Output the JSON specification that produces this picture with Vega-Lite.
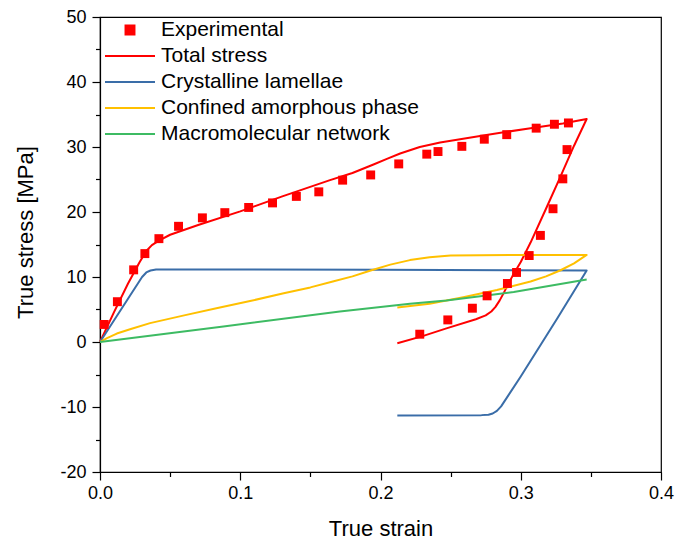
{
  "$schema": "https://vega.github.io/schema/vega-lite/v6.json",
  "width": 561,
  "height": 455,
  "autosize": {"type": "none"},
  "padding": {"left": 100, "top": 17, "right": 20, "bottom": 72},
  "background": "white",
  "config": {
    "view": {"stroke": "black", "strokeWidth": 1.2},
    "font": "Liberation Sans",
    "axis": {
      "grid": false,
      "domainColor": "black",
      "domainWidth": 1.2,
      "tickColor": "black",
      "tickWidth": 1.2,
      "labelColor": "black",
      "labelFont": "Liberation Sans",
      "labelFontSize": 18,
      "titleFont": "Liberation Sans",
      "titleFontSize": 22,
      "titleFontWeight": "normal",
      "titleColor": "black"
    }
  },
  "data": {
    "values": [
      {"series": "Experimental", "i": 0, "strain": 0.003, "stress": 2.7},
      {"series": "Experimental", "i": 1, "strain": 0.0124, "stress": 6.2},
      {"series": "Experimental", "i": 2, "strain": 0.024, "stress": 11.1},
      {"series": "Experimental", "i": 3, "strain": 0.032, "stress": 13.6},
      {"series": "Experimental", "i": 4, "strain": 0.042, "stress": 15.9},
      {"series": "Experimental", "i": 5, "strain": 0.056, "stress": 17.8},
      {"series": "Experimental", "i": 6, "strain": 0.073, "stress": 19.1},
      {"series": "Experimental", "i": 7, "strain": 0.089, "stress": 19.9},
      {"series": "Experimental", "i": 8, "strain": 0.106, "stress": 20.7},
      {"series": "Experimental", "i": 9, "strain": 0.123, "stress": 21.4},
      {"series": "Experimental", "i": 10, "strain": 0.14, "stress": 22.4},
      {"series": "Experimental", "i": 11, "strain": 0.156, "stress": 23.1},
      {"series": "Experimental", "i": 12, "strain": 0.173, "stress": 24.9},
      {"series": "Experimental", "i": 13, "strain": 0.193, "stress": 25.7},
      {"series": "Experimental", "i": 14, "strain": 0.213, "stress": 27.4},
      {"series": "Experimental", "i": 15, "strain": 0.233, "stress": 28.9},
      {"series": "Experimental", "i": 16, "strain": 0.241, "stress": 29.3},
      {"series": "Experimental", "i": 17, "strain": 0.258, "stress": 30.1},
      {"series": "Experimental", "i": 18, "strain": 0.274, "stress": 31.2},
      {"series": "Experimental", "i": 19, "strain": 0.29, "stress": 31.9},
      {"series": "Experimental", "i": 20, "strain": 0.311, "stress": 32.9},
      {"series": "Experimental", "i": 21, "strain": 0.324, "stress": 33.5},
      {"series": "Experimental", "i": 22, "strain": 0.334, "stress": 33.7},
      {"series": "Experimental", "i": 23, "strain": 0.333, "stress": 29.6},
      {"series": "Experimental", "i": 24, "strain": 0.33, "stress": 25.1},
      {"series": "Experimental", "i": 25, "strain": 0.323, "stress": 20.5},
      {"series": "Experimental", "i": 26, "strain": 0.314, "stress": 16.4},
      {"series": "Experimental", "i": 27, "strain": 0.306, "stress": 13.3},
      {"series": "Experimental", "i": 28, "strain": 0.297, "stress": 10.7},
      {"series": "Experimental", "i": 29, "strain": 0.2905, "stress": 9.0},
      {"series": "Experimental", "i": 30, "strain": 0.276, "stress": 7.1},
      {"series": "Experimental", "i": 31, "strain": 0.2655, "stress": 5.2},
      {"series": "Experimental", "i": 32, "strain": 0.248, "stress": 3.4},
      {"series": "Experimental", "i": 33, "strain": 0.228, "stress": 1.2},

      {"series": "Total stress", "i": 0, "strain": 0.0, "stress": 0.0},
      {"series": "Total stress", "i": 1, "strain": 0.01, "stress": 4.6},
      {"series": "Total stress", "i": 2, "strain": 0.02, "stress": 9.0},
      {"series": "Total stress", "i": 3, "strain": 0.028, "stress": 12.2},
      {"series": "Total stress", "i": 4, "strain": 0.033, "stress": 14.0},
      {"series": "Total stress", "i": 5, "strain": 0.037, "stress": 14.9},
      {"series": "Total stress", "i": 6, "strain": 0.042, "stress": 15.6},
      {"series": "Total stress", "i": 7, "strain": 0.05, "stress": 16.5},
      {"series": "Total stress", "i": 8, "strain": 0.07, "stress": 18.0},
      {"series": "Total stress", "i": 9, "strain": 0.1, "stress": 20.1},
      {"series": "Total stress", "i": 10, "strain": 0.13, "stress": 22.4},
      {"series": "Total stress", "i": 11, "strain": 0.164, "stress": 24.9},
      {"series": "Total stress", "i": 12, "strain": 0.18, "stress": 26.0},
      {"series": "Total stress", "i": 13, "strain": 0.195, "stress": 27.3},
      {"series": "Total stress", "i": 14, "strain": 0.205, "stress": 28.2},
      {"series": "Total stress", "i": 15, "strain": 0.214, "stress": 29.0},
      {"series": "Total stress", "i": 16, "strain": 0.228, "stress": 30.0},
      {"series": "Total stress", "i": 17, "strain": 0.2425, "stress": 30.7},
      {"series": "Total stress", "i": 18, "strain": 0.271, "stress": 31.7},
      {"series": "Total stress", "i": 19, "strain": 0.307, "stress": 32.9},
      {"series": "Total stress", "i": 20, "strain": 0.33, "stress": 33.6},
      {"series": "Total stress", "i": 21, "strain": 0.347, "stress": 34.3},
      {"series": "Total stress", "i": 22, "strain": 0.338, "stress": 30.2},
      {"series": "Total stress", "i": 23, "strain": 0.328, "stress": 25.3},
      {"series": "Total stress", "i": 24, "strain": 0.318, "stress": 20.5},
      {"series": "Total stress", "i": 25, "strain": 0.307, "stress": 15.3},
      {"series": "Total stress", "i": 26, "strain": 0.3, "stress": 12.3},
      {"series": "Total stress", "i": 27, "strain": 0.294, "stress": 10.1},
      {"series": "Total stress", "i": 28, "strain": 0.291, "stress": 8.9},
      {"series": "Total stress", "i": 29, "strain": 0.288, "stress": 7.6},
      {"series": "Total stress", "i": 30, "strain": 0.285, "stress": 6.4},
      {"series": "Total stress", "i": 31, "strain": 0.282, "stress": 5.4},
      {"series": "Total stress", "i": 32, "strain": 0.279, "stress": 4.7},
      {"series": "Total stress", "i": 33, "strain": 0.275, "stress": 4.1},
      {"series": "Total stress", "i": 34, "strain": 0.268, "stress": 3.5},
      {"series": "Total stress", "i": 35, "strain": 0.247, "stress": 2.1},
      {"series": "Total stress", "i": 36, "strain": 0.23, "stress": 0.9},
      {"series": "Total stress", "i": 37, "strain": 0.212, "stress": -0.2},

      {"series": "Crystalline lamellae", "i": 0, "strain": 0.0, "stress": 0.0},
      {"series": "Crystalline lamellae", "i": 1, "strain": 0.03, "stress": 10.0},
      {"series": "Crystalline lamellae", "i": 2, "strain": 0.033, "stress": 10.7},
      {"series": "Crystalline lamellae", "i": 3, "strain": 0.036, "stress": 11.0},
      {"series": "Crystalline lamellae", "i": 4, "strain": 0.04, "stress": 11.15},
      {"series": "Crystalline lamellae", "i": 5, "strain": 0.1, "stress": 11.15},
      {"series": "Crystalline lamellae", "i": 6, "strain": 0.2, "stress": 11.1},
      {"series": "Crystalline lamellae", "i": 7, "strain": 0.347, "stress": 11.0},
      {"series": "Crystalline lamellae", "i": 8, "strain": 0.326, "stress": 3.6},
      {"series": "Crystalline lamellae", "i": 9, "strain": 0.3, "stress": -5.3},
      {"series": "Crystalline lamellae", "i": 10, "strain": 0.286, "stress": -9.9},
      {"series": "Crystalline lamellae", "i": 11, "strain": 0.283, "stress": -10.6},
      {"series": "Crystalline lamellae", "i": 12, "strain": 0.28, "stress": -11.0},
      {"series": "Crystalline lamellae", "i": 13, "strain": 0.277, "stress": -11.2},
      {"series": "Crystalline lamellae", "i": 14, "strain": 0.272, "stress": -11.25},
      {"series": "Crystalline lamellae", "i": 15, "strain": 0.212, "stress": -11.3},

      {"series": "Confined amorphous phase", "i": 0, "strain": 0.0, "stress": 0.0},
      {"series": "Confined amorphous phase", "i": 1, "strain": 0.005, "stress": 0.6},
      {"series": "Confined amorphous phase", "i": 2, "strain": 0.012, "stress": 1.3},
      {"series": "Confined amorphous phase", "i": 3, "strain": 0.022, "stress": 2.0},
      {"series": "Confined amorphous phase", "i": 4, "strain": 0.0357, "stress": 2.9},
      {"series": "Confined amorphous phase", "i": 5, "strain": 0.06, "stress": 4.1},
      {"series": "Confined amorphous phase", "i": 6, "strain": 0.083, "stress": 5.2},
      {"series": "Confined amorphous phase", "i": 7, "strain": 0.107, "stress": 6.3},
      {"series": "Confined amorphous phase", "i": 8, "strain": 0.131, "stress": 7.5},
      {"series": "Confined amorphous phase", "i": 9, "strain": 0.15, "stress": 8.4},
      {"series": "Confined amorphous phase", "i": 10, "strain": 0.166, "stress": 9.3},
      {"series": "Confined amorphous phase", "i": 11, "strain": 0.18, "stress": 10.1},
      {"series": "Confined amorphous phase", "i": 12, "strain": 0.193, "stress": 11.0},
      {"series": "Confined amorphous phase", "i": 13, "strain": 0.207, "stress": 11.9},
      {"series": "Confined amorphous phase", "i": 14, "strain": 0.221, "stress": 12.6},
      {"series": "Confined amorphous phase", "i": 15, "strain": 0.235, "stress": 13.05},
      {"series": "Confined amorphous phase", "i": 16, "strain": 0.25, "stress": 13.3},
      {"series": "Confined amorphous phase", "i": 17, "strain": 0.3, "stress": 13.4},
      {"series": "Confined amorphous phase", "i": 18, "strain": 0.347, "stress": 13.4},
      {"series": "Confined amorphous phase", "i": 19, "strain": 0.338, "stress": 12.1},
      {"series": "Confined amorphous phase", "i": 20, "strain": 0.328, "stress": 11.0},
      {"series": "Confined amorphous phase", "i": 21, "strain": 0.318, "stress": 10.1},
      {"series": "Confined amorphous phase", "i": 22, "strain": 0.307, "stress": 9.3},
      {"series": "Confined amorphous phase", "i": 23, "strain": 0.283, "stress": 8.0},
      {"series": "Confined amorphous phase", "i": 24, "strain": 0.259, "stress": 6.9},
      {"series": "Confined amorphous phase", "i": 25, "strain": 0.235, "stress": 5.9},
      {"series": "Confined amorphous phase", "i": 26, "strain": 0.212, "stress": 5.3},

      {"series": "Macromolecular network", "i": 0, "strain": 0.0, "stress": 0.0},
      {"series": "Macromolecular network", "i": 1, "strain": 0.088, "stress": 2.4},
      {"series": "Macromolecular network", "i": 2, "strain": 0.171, "stress": 4.7},
      {"series": "Macromolecular network", "i": 3, "strain": 0.221, "stress": 5.9},
      {"series": "Macromolecular network", "i": 4, "strain": 0.247, "stress": 6.4},
      {"series": "Macromolecular network", "i": 5, "strain": 0.295, "stress": 7.7},
      {"series": "Macromolecular network", "i": 6, "strain": 0.347, "stress": 9.6}
    ]
  },
  "encoding": {
    "x": {
      "field": "strain",
      "type": "quantitative",
      "title": "True strain",
      "scale": {"domain": [0, 0.4], "nice": false, "zero": false},
      "axis": {
        "values": [0, 0.05, 0.1, 0.15, 0.2, 0.25, 0.3, 0.35, 0.4],
        "labelExpr": "round(datum.value*20) % 2 === 0 ? format(datum.value, '.1f') : ''",
        "tickSize": {"condition": {"test": "round(datum.value*20) % 2 !== 0", "value": 4.5}, "value": 8},
        "labelPadding": 4,
        "titlePadding": 16,
        "labelFlush": false,
        "labelOverlap": false
      }
    },
    "y": {
      "field": "stress",
      "type": "quantitative",
      "title": "True stress [MPa]",
      "scale": {"domain": [-20, 50], "nice": false, "zero": false},
      "axis": {
        "values": [-20, -15, -10, -5, 0, 5, 10, 15, 20, 25, 30, 35, 40, 45, 50],
        "labelExpr": "datum.value % 10 === 0 ? toString(datum.value) : ''",
        "tickSize": {"condition": {"test": "datum.value % 10 !== 0", "value": 4.5}, "value": 8},
        "labelPadding": 6,
        "titlePadding": 22,
        "titleY": 215,
        "labelFlush": false,
        "labelOverlap": false
      }
    },
    "color": {
      "field": "series",
      "type": "nominal",
      "scale": {
        "domain": ["Experimental", "Total stress", "Crystalline lamellae", "Confined amorphous phase", "Macromolecular network"],
        "range": ["#ff0000", "#ff0000", "#3a6da8", "#ffc000", "#3dbb63"]
      },
      "legend": {
        "title": null,
        "orient": "none",
        "legendX": 4,
        "legendY": 3,
        "padding": 0,
        "clipHeight": 20,
        "symbolType": "stroke",
        "symbolSize": 2500,
        "symbolStrokeWidth": 2,
        "labelFont": "Liberation Sans",
        "labelFontSize": 21,
        "labelColor": "black",
        "labelOffset": 5,
        "rowPadding": 5,
        "labelLimit": 400,
        "encode": {
          "symbols": {
            "update": {
              "shape": {"signal": "datum.label === 'Experimental' ? 'square' : 'stroke'"},
              "size": {"signal": "datum.label === 'Experimental' ? 80 : 2500"},
              "fill": [{"test": "datum.label === 'Experimental'", "value": "#ff0000"}, {"value": "transparent"}],
              "stroke": [{"test": "datum.label === 'Experimental'", "value": "transparent"}, {"scale": "color", "field": "value"}],
              "strokeWidth": {"value": 2},
              "opacity": {"value": 1}
            }
          }
        }
      }
    }
  },
  "layer": [
    {
      "transform": [{"filter": "datum.series !== 'Experimental'"}],
      "mark": {"type": "line", "strokeWidth": 2, "interpolate": "linear", "strokeJoin": "round"},
      "encoding": {
        "order": {"field": "i", "type": "quantitative"}
      }
    },
    {
      "transform": [{"filter": "datum.series === 'Experimental'"}],
      "mark": {"type": "point", "shape": "square", "filled": true, "size": 80, "opacity": 1}
    }
  ]
}
